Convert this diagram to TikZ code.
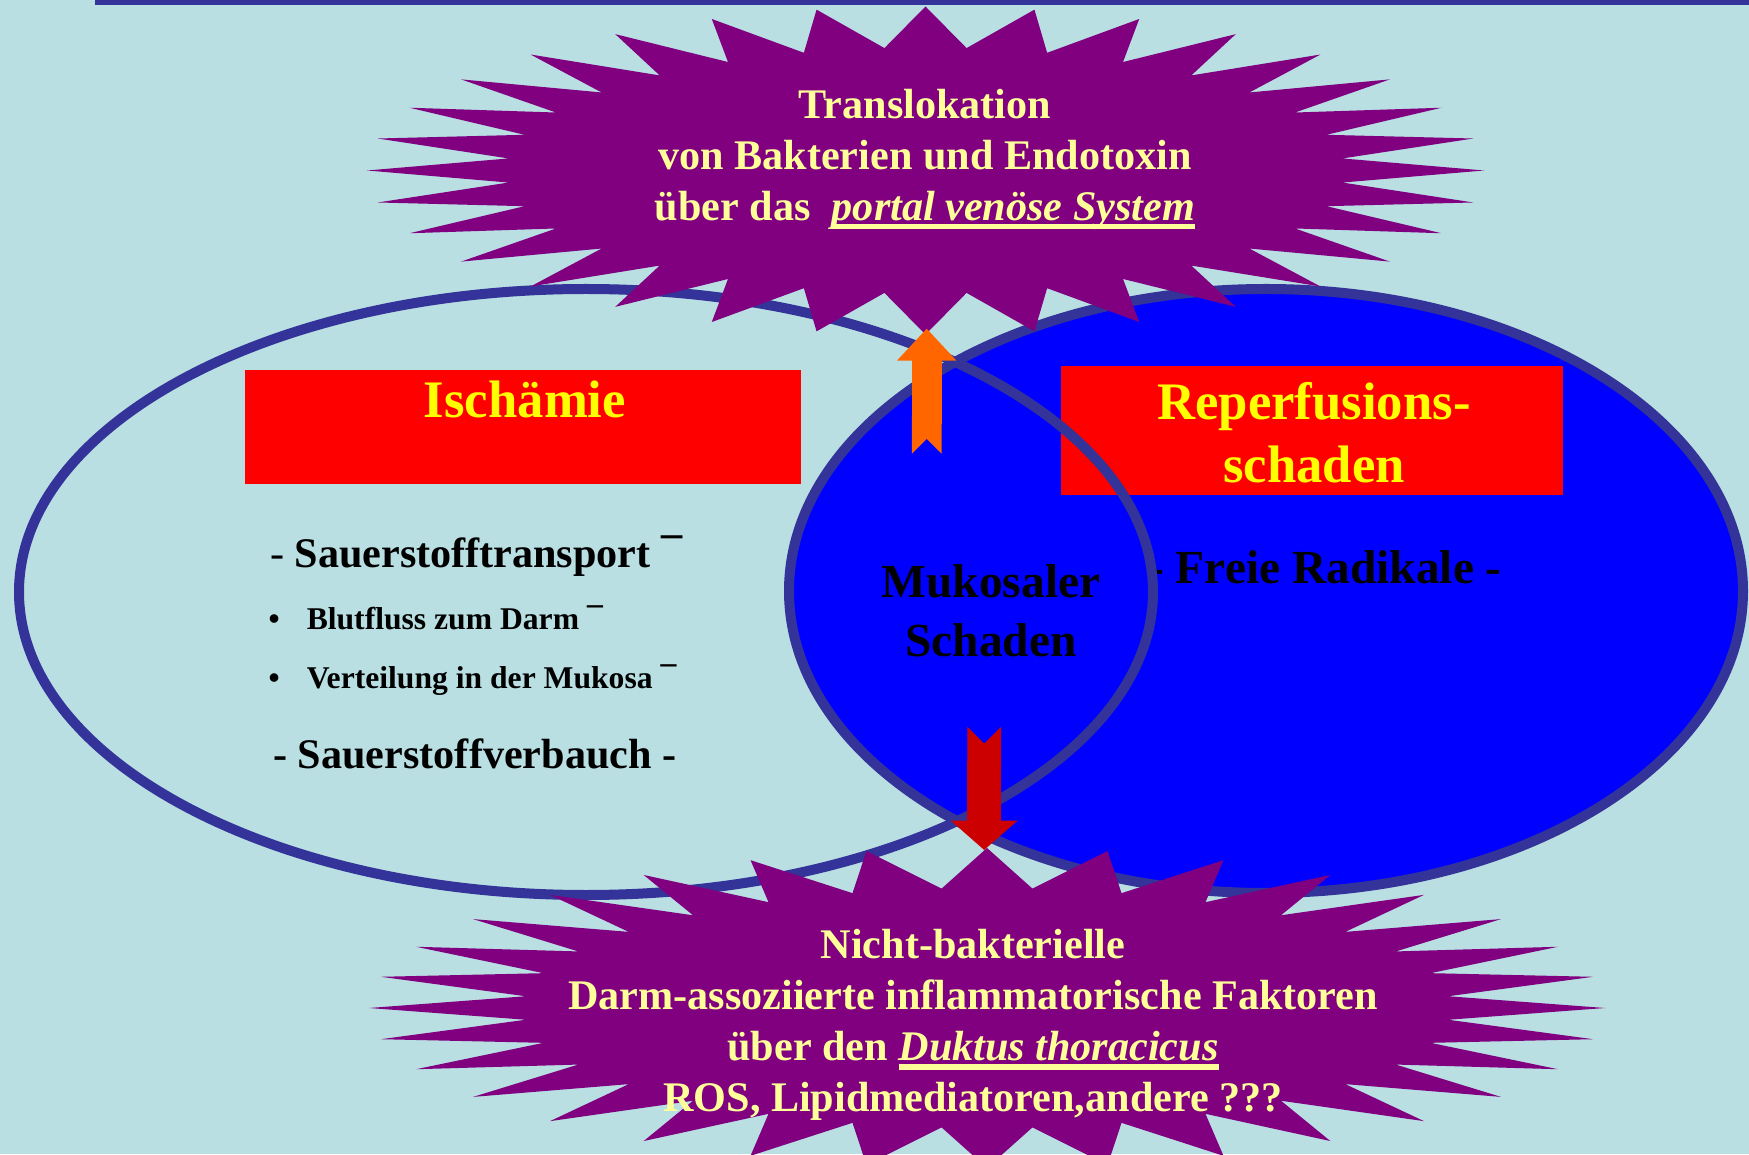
\documentclass[tikz,border=0pt]{standalone}
\usepackage{fontspec}
\setmainfont{Liberation Serif}
\usetikzlibrary{arrows.meta,positioning}

\definecolor{bgcyan}{RGB}{185,223,227}
\definecolor{ringblue}{RGB}{51,51,153}
\definecolor{fullblue}{RGB}{0,0,255}
\definecolor{boxred}{RGB}{255,0,0}
\definecolor{titleyellow}{RGB}{255,255,0}
\definecolor{burstpurple}{RGB}{128,0,128}
\definecolor{paleyellow}{RGB}{255,255,153}
\definecolor{arrorange}{RGB}{255,102,0}
\definecolor{arrred}{RGB}{204,0,0}

% thick underline
\newsavebox\ulbox
\newcommand{\thickul}[1]{\sbox\ulbox{#1}\rlap{\rule[-2.6pt]{\wd\ulbox}{1.5pt}}\usebox\ulbox}

\begin{document}
\begin{tikzpicture}[
  ring/.style={draw=ringblue, line width=0.1cm},
  burst/.style={fill=burstpurple},
  bursttext/.style={text=paleyellow, align=center, inner sep=0pt, font=\fontsize{12}{14.5}\selectfont\bfseries},
  redbox/.style={rectangle, fill=boxred, inner sep=0pt},
  title/.style={text=titleyellow, align=center, inner sep=0pt, font=\fontsize{15}{18}\selectfont\bfseries},
  item/.style={anchor=base west, inner sep=0pt, font=\fontsize{12}{14}\selectfont\bfseries},
  subitem/.style={anchor=base west, inner sep=0pt, font=\fontsize{9}{11}\selectfont\bfseries},
  big/.style={align=center, inner sep=0pt, font=\fontsize{13.5}{16.8}\selectfont\bfseries},
]
\useasboundingbox (0,0) rectangle (17.49,11.54);
\fill[bgcyan] (0,0) rectangle (17.49,11.54);
\fill[ringblue] (0.95,11.49) rectangle (17.49,11.54);

% ---------------- reperfusion side ----------------
\draw[ring, fill=fullblue] (12.66,5.63) ellipse [x radius=4.77, y radius=3.02];

\node[redbox, minimum width=5.555cm, minimum height=1.138cm] (ischBox) at (5.232,7.268) {};
\node[title, anchor=base] (isch) at (5.25,7.36) {Ischämie};
\node[redbox, minimum width=5.02cm, minimum height=1.29cm] (repBox) at (13.117,7.235) {};
\node[title] (rep) at (13.14,7.21) {Reperfusions-\\schaden};

% ---------------- ischaemia list ----------------
\node[item] (transp) at (2.693,5.867) {{\mdseries -} Sauerstofftransport ¯};
\node[subitem] (blut) at (2.68,5.243) {•\hspace{0.27cm}Blutfluss zum Darm ¯};
\node[subitem] (vert) at (2.68,4.657) {•\hspace{0.27cm}Verteilung in der Mukosa ¯};
\node[item] (verb) at (2.727,3.857) {- Sauerstoffverbauch -};

\node[big] (muk) at (9.91,5.43) {Mukosaler\\Schaden};
\node[big, anchor=base] (frei) at (13.25,5.70) {- Freie Radikale -};

% left ellipse over the rest
\draw[ring] (5.86,5.62) ellipse [x radius=5.67, y radius=3.03];

% ---------------- bursts ----------------
\begin{scope}[shift={(9.255,9.835)}]
\fill[burst] (0,1.64) \foreach \k in {1,...,32} {
  -- ({4.19*cos(90+(\k-0.5)*11.25)},{1.23*sin(90+(\k-0.5)*11.25)})
  -- ({5.585*cos(90+\k*11.25)},{1.64*sin(90+\k*11.25)}) } -- cycle;
\end{scope}
\node[bursttext] (transl) at (9.25,9.95) {Translokation\\von Bakterien und Endotoxin\\über das~~\thickul{\textit{portal venöse System}}};

\begin{scope}[shift={(9.87,1.46)}]
\fill[burst] (0,1.60) \foreach \k in {1,...,32} {
  -- ({4.635*cos(90+(\k-0.5)*11.25)},{1.2*sin(90+(\k-0.5)*11.25)})
  -- ({6.18*cos(90+\k*11.25)},{1.60*sin(90+\k*11.25)}) } -- cycle;
\end{scope}
\node[bursttext] (faktor) at (9.73,1.29) {Nicht-bakterielle\\Darm-assoziierte inflammatorische Faktoren\\über den \thickul{\textit{Duktus thoracicus}}\\ROS, Lipidmediatoren,andere ???};

% ---------------- block arrows ----------------
\coordinate (upFrom) at (9.267,7.004);
\coordinate (upTo) at (9.267,8.254);
\draw[arrorange, line width=0.296cm, {Triangle Cap[reversed]}-{Triangle[length=0.321cm, width=0.576cm]}] (upFrom) -- (upTo);
\coordinate (downFrom) at (9.842,4.272);
\coordinate (downTo) at (9.842,3.04);
\draw[arrred, line width=0.338cm, {Triangle Cap[reversed]}-{Triangle[length=0.293cm, width=0.65cm]}] (downFrom) -- (downTo);
\end{tikzpicture}
\end{document}
